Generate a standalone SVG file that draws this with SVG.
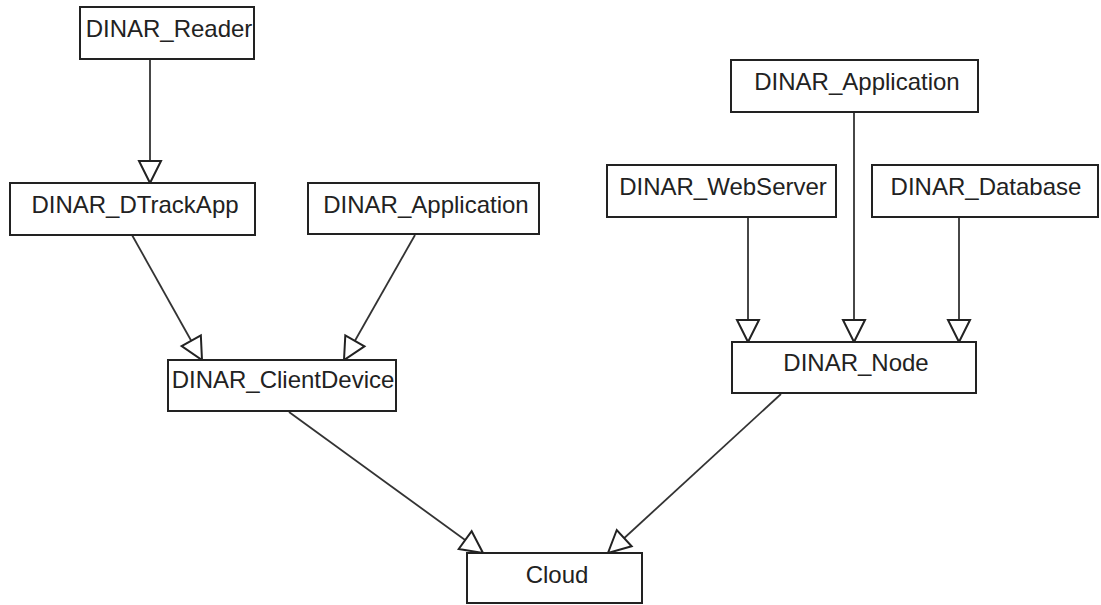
<svg xmlns="http://www.w3.org/2000/svg" width="1101" height="605" viewBox="0 0 1101 605">
<style>
.box{fill:#fff;stroke:#222;stroke-width:2}
.lbl{font-family:"Liberation Sans",Arial,sans-serif;font-size:24px;fill:#222;text-anchor:middle}
.edge{stroke:#333;stroke-width:1.8;fill:none;marker-end:url(#tri)}
</style>
<defs>
<marker id="tri" markerUnits="userSpaceOnUse" markerWidth="26" markerHeight="26" refX="22" refY="11" orient="auto" overflow="visible">
<path d="M0,0 L22,11 L0,22 Z" fill="#fff" stroke="#222" stroke-width="2"/>
</marker>
</defs>
<rect width="1101" height="605" fill="#fff"/>
<g id="connectors">
<line class="edge" x1="150" y1="59" x2="150" y2="183"/>
<line class="edge" x1="132" y1="235" x2="202" y2="360"/>
<line class="edge" x1="415" y1="235" x2="344" y2="360"/>
<line class="edge" x1="748" y1="217" x2="748" y2="342"/>
<line class="edge" x1="854" y1="112" x2="854" y2="342"/>
<line class="edge" x1="959" y1="217" x2="959" y2="342"/>
<line class="edge" x1="289" y1="412" x2="483" y2="553"/>
<line class="edge" x1="781" y1="394" x2="608" y2="553"/>
</g>
<g id="reader"><rect class="box" x="80" y="7" width="174" height="52"/><text class="lbl" x="169" y="37">DINAR_Reader</text></g>
<g id="dtrackapp"><rect class="box" x="10" y="183" width="245" height="52"/><text class="lbl" x="135" y="213">DINAR_DTrackApp</text></g>
<g id="application-left"><rect class="box" x="308" y="183" width="231" height="51"/><text class="lbl" x="426" y="213">DINAR_Application</text></g>
<g id="clientdevice"><rect class="box" x="168" y="360" width="228" height="51"/><text class="lbl" x="283" y="388">DINAR_ClientDevice</text></g>
<g id="application-right"><rect class="box" x="731" y="60" width="247" height="52"/><text class="lbl" x="857" y="90">DINAR_Application</text></g>
<g id="webserver"><rect class="box" x="607" y="165" width="229" height="52"/><text class="lbl" x="723" y="195">DINAR_WebServer</text></g>
<g id="database"><rect class="box" x="872" y="165" width="226" height="52"/><text class="lbl" x="986" y="195">DINAR_Database</text></g>
<g id="node"><rect class="box" x="732" y="342" width="244" height="51"/><text class="lbl" x="856" y="371">DINAR_Node</text></g>
<g id="cloud"><rect class="box" x="467" y="553" width="175" height="50"/><text class="lbl" x="557" y="583">Cloud</text></g>
</svg>
